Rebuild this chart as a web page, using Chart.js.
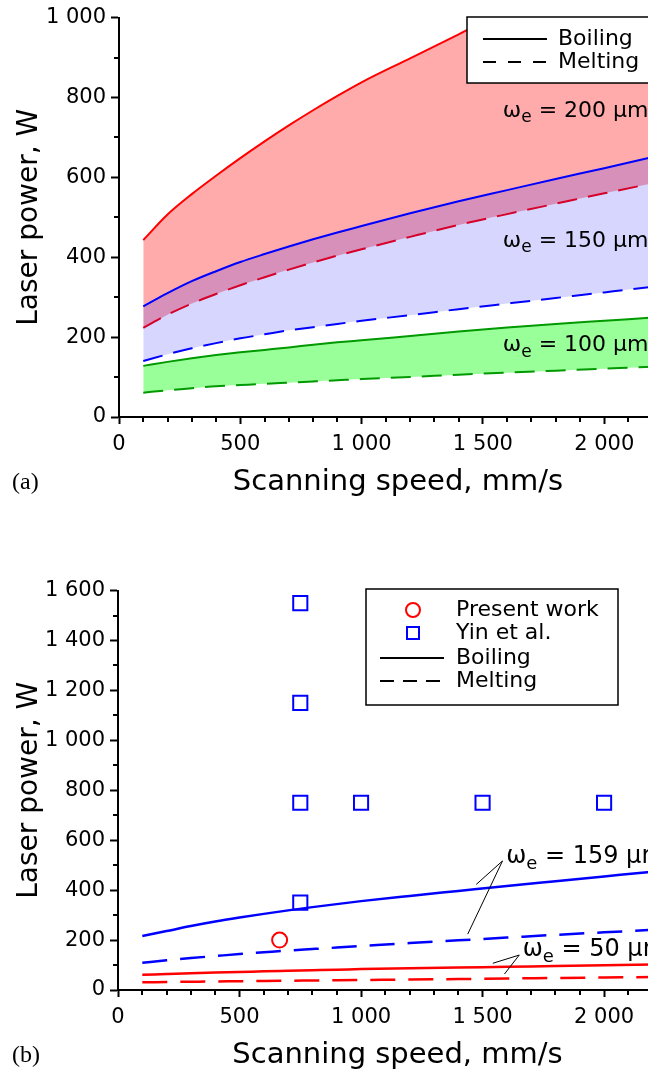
<!DOCTYPE html>
<html>
<head>
<meta charset="utf-8">
<script src="https://cdn.jsdelivr.net/npm/chart.js@4.4.1/dist/chart.umd.min.js"></script>
<style>
  html, body { margin: 0; padding: 0; background: #fff; overflow: hidden; }
  #wrap { position: relative; width: 648px; height: 1073px; overflow: hidden; }
  #chartA { position: absolute; left: 0; top: 0; }
  #chartB { position: absolute; left: 0; top: 573px; }
</style>
</head>
<body>
<div id="wrap">
  <canvas id="chartA" width="690" height="502"></canvas>
  <canvas id="chartB" width="690" height="502"></canvas>
</div>
<script>
// ─── Data ─────────────────────────────────────────────────────────────────────

const speed = [100, 200, 300, 400, 500, 600, 700, 800, 900, 1000, 1200, 1400, 1600, 1800, 2000, 2200, 2300];
const speedTicks = [0, 500, 1000, 1500, 2000];

// (a) boiling / melting thresholds, W
const boil200 = [443, 507, 558, 604, 648, 690, 730, 768, 804, 838, 898, 958, 1020, 1075, 1125, 1175, 1200];
const melt200 = [223, 256, 284, 308, 330, 350, 369, 387, 404, 420, 451, 481, 508, 534, 560, 585, 597];
const boil150 = [277, 310, 340, 365, 388, 408, 427, 445, 462, 478, 510, 540, 568, 596, 623, 651, 664];
const melt150 = [140, 157, 172, 185, 197, 207, 217, 225, 233, 241, 255, 270, 284, 298, 312, 326, 333];
const boil100 = [128, 138, 147, 155, 162, 168, 174, 181, 187, 192, 203, 214, 224, 233, 241, 249, 253];
const melt100 = [61, 67, 72, 77, 80, 83, 86, 89, 92, 95, 100, 106, 111, 116, 121, 126, 128];

// (b) model curves, W
const boil159 = [216, 236, 256, 274, 290, 305, 319, 332, 344, 356, 377, 397, 417, 436, 455, 474, 483];
const melt159 = [109, 119, 128, 136, 144, 151, 158, 164, 170, 176, 188, 199, 210, 221, 231, 241, 246];
const boil50  = [61, 64, 67, 70, 72, 75, 77, 79, 81, 84, 87, 90, 93, 96, 99, 102, 104];
const melt50  = [31, 32, 33, 34, 35, 36, 37, 38, 39, 40, 42, 44, 46, 48, 50, 52, 53];

// (b) experiments
const presentSpeed = [665];
const presentPower = [200];
const yinSpeed = [750, 750, 750, 750, 1000, 1500, 2000];
const yinPower = [1550, 1150, 750, 350, 750, 750, 750];

// ─── Helpers ──────────────────────────────────────────────────────────────────

Chart.defaults.font.family = '"DejaVu Sans", Verdana, sans-serif';
Chart.defaults.color = '#000';

const FONT = '"DejaVu Sans", Verdana, sans-serif';
const pts = (xs, ys) => xs.map((x, i) => ({ x, y: ys[i] }));
const fmt = v => String(v).replace(/\B(?=(\d{3})+(?!\d))/g, ' ');

function curve(label, ys, color, dashed, order, width, fill) {
  return {
    label,
    data: pts(speed, ys),
    borderColor: color,
    borderWidth: width,
    borderDash: dashed ? dashed : [],
    pointRadius: 0,
    cubicInterpolationMode: 'monotone',
    order,
    fill: fill || false,
  };
}

function axes(yMax, yWidth) {
  return {
    x: {
      type: 'linear', min: 0, max: 2300,
      border: { display: true, color: '#000', width: 2 },
      grid: { drawOnChartArea: false, drawTicks: true, tickLength: 7, tickWidth: 2, tickColor: '#000' },
      ticks: { padding: 8, font: { size: 21 }, maxRotation: 0, autoSkip: false, callback: v => fmt(v) },
      afterBuildTicks: s => { s.ticks = speedTicks.map(v => ({ value: v })); },
      title: { display: true, text: 'Scanning speed, mm/s', font: { size: 29 }, padding: { top: 0, bottom: 2 } },
      afterFit: s => { s.height = 85; },
    },
    y: {
      type: 'linear', min: 0, max: yMax,
      border: { display: true, color: '#000', width: 2 },
      grid: { drawOnChartArea: false, drawTicks: true, tickLength: 8, tickWidth: 2, tickColor: '#000' },
      ticks: { stepSize: 200, padding: 5, font: { size: 21 }, callback: v => fmt(v) },
      title: { display: true, text: 'Laser power, W', font: { size: 28 }, padding: { top: 13, bottom: 0 } },
      afterFit: s => { s.width = yWidth; },
    },
  };
}

const minorTicks = {
  id: 'minorTicks',
  afterDraw(chart) {
    const { ctx, chartArea, scales: { x, y } } = chart;
    ctx.save();
    ctx.strokeStyle = '#000';
    ctx.lineWidth = 2;
    ctx.beginPath();
    for (let v = 100; v < x.max; v += 100) {
      if (v % 500 === 0) continue;
      const px = Math.round(x.getPixelForValue(v));
      ctx.moveTo(px, chartArea.bottom);
      ctx.lineTo(px, chartArea.bottom + 5);
    }
    for (let v = 100; v < y.max; v += 100) {
      if (v % 200 === 0) continue;
      const py = Math.round(y.getPixelForValue(v));
      ctx.moveTo(chartArea.left - 5, py);
      ctx.lineTo(chartArea.left, py);
    }
    ctx.stroke();
    ctx.restore();
  },
};

// ω with subscript e, then the rest, vertically centred on y
function omegaLabel(ctx, x, y, rest, size) {
  ctx.save();
  ctx.fillStyle = '#000';
  ctx.textBaseline = 'middle';
  ctx.textAlign = 'left';
  ctx.font = size + 'px ' + FONT;
  ctx.fillText('ω', x, y);
  const w1 = ctx.measureText('ω').width;
  ctx.font = Math.round(size * 0.75) + 'px ' + FONT;
  ctx.fillText('e', x + w1, y + size * 0.3);
  const w2 = ctx.measureText('e').width;
  ctx.font = size + 'px ' + FONT;
  ctx.fillText(' = ' + rest, x + w1 + w2, y);
  ctx.restore();
}

function panelTag(ctx, chart, tag) {
  ctx.save();
  ctx.fillStyle = '#000';
  ctx.font = '24px "Liberation Serif", "Times New Roman", serif';
  ctx.textBaseline = 'middle';
  ctx.fillText(tag, 12, chart.chartArea.bottom + 66);
  ctx.restore();
}

function legendLine(ctx, x0, x1, y, dash) {
  ctx.save();
  ctx.strokeStyle = '#000';
  ctx.lineWidth = 2;
  ctx.setLineDash(dash);
  ctx.beginPath();
  ctx.moveTo(x0, y);
  ctx.lineTo(x1, y);
  ctx.stroke();
  ctx.restore();
}

function legendText(ctx, text, x, y) {
  ctx.save();
  ctx.fillStyle = '#000';
  ctx.font = '22px ' + FONT;
  ctx.textBaseline = 'middle';
  ctx.fillText(text, x, y);
  ctx.restore();
}

// ─── (a) ──────────────────────────────────────────────────────────────────────

const annotA = {
  id: 'annotA',
  afterDatasetsDraw(chart) {
    const { ctx, scales: { x, y } } = chart;
    omegaLabel(ctx, x.getPixelForValue(1582), y.getPixelForValue(765), '200 μm', 22);
    omegaLabel(ctx, x.getPixelForValue(1582), y.getPixelForValue(440), '150 μm', 22);
    omegaLabel(ctx, x.getPixelForValue(1582), y.getPixelForValue(179), '100 μm', 22);

    ctx.save();
    ctx.fillStyle = '#fff';
    ctx.strokeStyle = '#000';
    ctx.lineWidth = 1.5;
    ctx.fillRect(467, 17, 260, 66);
    ctx.strokeRect(467, 17, 260, 66);
    ctx.restore();
    legendLine(ctx, 483, 547, 39, []);
    legendLine(ctx, 483, 547, 62, [13, 12]);
    legendText(ctx, 'Boiling', 558, 39);
    legendText(ctx, 'Melting', 558, 62);

    panelTag(ctx, chart, '(a)');
  },
};

new Chart(document.getElementById('chartA'), {
  type: 'line',
  data: {
    datasets: [
      curve('Boiling 200', boil200, '#ff0000', null, 6, 2,
            { target: 1, above: 'rgba(255,0,0,0.33)', below: 'rgba(255,0,0,0.33)' }),
      curve('Melting 200', melt200, '#ff0000', [20, 11], 5, 2),
      curve('Boiling 150', boil150, '#0000ff', null, 4, 2,
            { target: 3, above: 'rgba(0,0,255,0.16)', below: 'rgba(0,0,255,0.16)' }),
      curve('Melting 150', melt150, '#0000ff', [20, 11], 3, 2),
      curve('Boiling 100', boil100, '#009900', null, 2, 2,
            { target: 5, above: 'rgba(0,255,0,0.4)', below: 'rgba(0,255,0,0.4)' }),
      curve('Melting 100', melt100, '#009900', [20, 11], 1, 2),
    ],
  },
  options: {
    responsive: false,
    animation: false,
    layout: { padding: { top: 17, right: 13, bottom: 0, left: 0 } },
    plugins: { legend: { display: false }, tooltip: { enabled: false } },
    scales: axes(1000, 119),
  },
  plugins: [minorTicks, annotA],
});

// ─── (b) ──────────────────────────────────────────────────────────────────────

function leader(ctx, x, y, from, ends) {
  ctx.save();
  ctx.strokeStyle = '#000';
  ctx.lineWidth = 1;
  ctx.beginPath();
  ends.forEach(e => {
    ctx.moveTo(x.getPixelForValue(from[0]), y.getPixelForValue(from[1]));
    ctx.lineTo(x.getPixelForValue(e[0]), y.getPixelForValue(e[1]));
  });
  ctx.stroke();
  ctx.restore();
}

const annotB = {
  id: 'annotB',
  afterDatasetsDraw(chart) {
    const { ctx, scales: { x, y } } = chart;
    leader(ctx, x, y, [1582, 517], [[1474, 423], [1439, 224]]);
    leader(ctx, x, y, [1651, 140], [[1542, 107], [1590, 64]]);
    omegaLabel(ctx, x.getPixelForValue(1597), y.getPixelForValue(533), '159 μm', 24);
    omegaLabel(ctx, x.getPixelForValue(1665), y.getPixelForValue(160), '50 μm', 24);

    ctx.save();
    ctx.fillStyle = '#fff';
    ctx.strokeStyle = '#000';
    ctx.lineWidth = 1.5;
    ctx.fillRect(366, 16, 252, 116);
    ctx.strokeRect(366, 16, 252, 116);
    ctx.lineWidth = 2;
    ctx.strokeStyle = '#ff0000';
    ctx.beginPath();
    ctx.arc(413, 37, 7, 0, Math.PI * 2);
    ctx.stroke();
    ctx.strokeStyle = '#0000ff';
    ctx.strokeRect(407, 54, 12, 12);
    ctx.restore();
    legendText(ctx, 'Present work', 456, 37);
    legendText(ctx, 'Yin et al.', 456, 60);
    legendLine(ctx, 380, 444, 85, []);
    legendLine(ctx, 380, 444, 108, [14, 9]);
    legendText(ctx, 'Boiling', 456, 85);
    legendText(ctx, 'Melting', 456, 108);

    panelTag(ctx, chart, '(b)');
  },
};

new Chart(document.getElementById('chartB'), {
  type: 'line',
  data: {
    datasets: [
      {
        label: 'Present work',
        data: pts(presentSpeed, presentPower),
        showLine: false,
        pointStyle: 'circle',
        pointRadius: 7.5,
        borderWidth: 2,
        borderColor: '#ff0000',
        backgroundColor: 'rgba(0,0,0,0)',
        order: 0,
      },
      {
        label: 'Yin et al.',
        data: pts(yinSpeed, yinPower),
        showLine: false,
        pointStyle: 'rect',
        pointRadius: 10,
        borderWidth: 2,
        borderColor: '#0000ff',
        backgroundColor: 'rgba(0,0,0,0)',
        order: 0,
      },
      curve('Boiling 159', boil159, '#0000ff', null, 1, 2.5),
      curve('Melting 159', melt159, '#0000ff', [25, 13], 2, 2.5),
      curve('Boiling 50', boil50, '#ff0000', null, 3, 2.5),
      curve('Melting 50', melt50, '#ff0000', [25, 13], 4, 2.5),
    ],
  },
  options: {
    responsive: false,
    animation: false,
    layout: { padding: { top: 17, right: 13, bottom: 0, left: 0 } },
    plugins: { legend: { display: false }, tooltip: { enabled: false } },
    scales: axes(1600, 118),
  },
  plugins: [minorTicks, annotB],
});
</script>
</body>
</html>
